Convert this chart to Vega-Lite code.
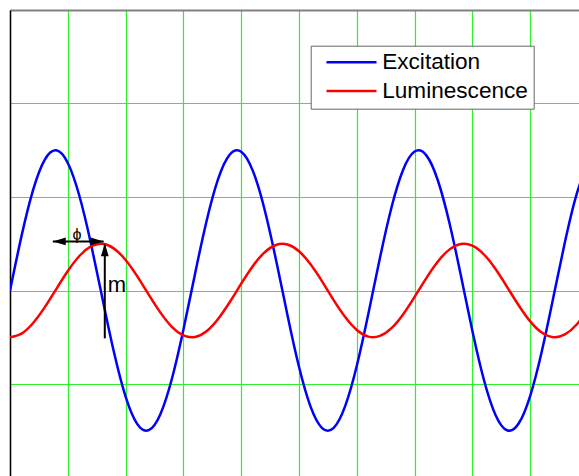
{
  "$schema": "https://vega.github.io/schema/vega-lite/v6.json",
  "width": 578,
  "height": 467.5,
  "autosize": {"type": "none"},
  "padding": {"left": 10, "top": 10, "right": 0, "bottom": 0},
  "background": "white",
  "config": {"view": {"stroke": null}, "font": "Liberation Sans"},
  "datasets": {
    "signals": [
      {"t": 0, "Excitation": 0, "Luminescence": -0.5},
      {"t": 0.2, "Excitation": 0.584, "Luminescence": -0.461},
      {"t": 0.4, "Excitation": 1.076, "Luminescence": -0.348},
      {"t": 0.6, "Excitation": 1.398, "Luminescence": -0.181},
      {"t": 0.8, "Excitation": 1.499, "Luminescence": 0.015},
      {"t": 1.0, "Excitation": 1.364, "Luminescence": 0.208},
      {"t": 1.2, "Excitation": 1.013, "Luminescence": 0.369},
      {"t": 1.4, "Excitation": 0.502, "Luminescence": 0.471},
      {"t": 1.6, "Excitation": -0.088, "Luminescence": 0.499},
      {"t": 1.8, "Excitation": -0.664, "Luminescence": 0.448},
      {"t": 2.0, "Excitation": -1.135, "Luminescence": 0.327},
      {"t": 2.2, "Excitation": -1.427, "Luminescence": 0.154},
      {"t": 2.4, "Excitation": -1.494, "Luminescence": -0.044},
      {"t": 2.6, "Excitation": -1.325, "Luminescence": -0.234},
      {"t": 2.8, "Excitation": -0.947, "Luminescence": -0.388},
      {"t": 3.0, "Excitation": -0.419, "Luminescence": -0.48},
      {"t": 3.2, "Excitation": 0.175, "Luminescence": -0.497},
      {"t": 3.4, "Excitation": 0.741, "Luminescence": -0.435},
      {"t": 3.6, "Excitation": 1.191, "Luminescence": -0.304},
      {"t": 3.8, "Excitation": 1.452, "Luminescence": -0.126},
      {"t": 4.0, "Excitation": 1.484, "Luminescence": 0.073},
      {"t": 4.2, "Excitation": 1.282, "Luminescence": 0.26},
      {"t": 4.4, "Excitation": 0.877, "Luminescence": 0.406},
      {"t": 4.6, "Excitation": 0.334, "Luminescence": 0.487},
      {"t": 4.8, "Excitation": -0.261, "Luminescence": 0.492},
      {"t": 5.0, "Excitation": -0.816, "Luminescence": 0.42},
      {"t": 5.2, "Excitation": -1.242, "Luminescence": 0.28},
      {"t": 5.4, "Excitation": -1.471, "Luminescence": 0.097},
      {"t": 5.6, "Excitation": -1.469, "Luminescence": -0.102},
      {"t": 5.8, "Excitation": -1.234, "Luminescence": -0.284},
      {"t": 6.0, "Excitation": -0.805, "Luminescence": -0.422},
      {"t": 6.2, "Excitation": -0.248, "Luminescence": -0.493},
      {"t": 6.4, "Excitation": 0.347, "Luminescence": -0.486},
      {"t": 6.6, "Excitation": 0.888, "Luminescence": -0.403},
      {"t": 6.8, "Excitation": 1.289, "Luminescence": -0.256},
      {"t": 7.0, "Excitation": 1.486, "Luminescence": -0.068},
      {"t": 7.2, "Excitation": 1.448, "Luminescence": 0.13},
      {"t": 7.4, "Excitation": 1.182, "Luminescence": 0.308},
      {"t": 7.6, "Excitation": 0.73, "Luminescence": 0.437},
      {"t": 7.8, "Excitation": 0.162, "Luminescence": 0.497},
      {"t": 8.0, "Excitation": -0.432, "Luminescence": 0.479},
      {"t": 8.2, "Excitation": -0.957, "Luminescence": 0.385},
      {"t": 8.4, "Excitation": -1.331, "Luminescence": 0.23},
      {"t": 8.6, "Excitation": -1.495, "Luminescence": 0.039},
      {"t": 8.8, "Excitation": -1.423, "Luminescence": -0.158},
      {"t": 9.0, "Excitation": -1.126, "Luminescence": -0.33},
      {"t": 9.2, "Excitation": -0.652, "Luminescence": -0.45},
      {"t": 9.4, "Excitation": -0.074, "Luminescence": -0.499},
      {"t": 9.6, "Excitation": 0.515, "Luminescence": -0.47},
      {"t": 9.8, "Excitation": 1.023, "Luminescence": -0.366},
      {"t": 10.0, "Excitation": 1.369, "Luminescence": -0.204}
    ],
    "arrows": [
      {"x": 0.74, "x2": 1.62, "y": 0.525, "y2": 0.525},
      {"x": 1.64, "x2": 1.64, "y": -0.512, "y2": 0.49}
    ],
    "heads": [
      {"x": 0.74, "y": 0.525, "dir": "left"},
      {"x": 1.62, "y": 0.525, "dir": "right"},
      {"x": 1.64, "y": 0.505, "dir": "up"}
    ],
    "notes": [
      {"x": 1.16, "y": 0.594, "label": "ϕ"},
      {"x": 1.69, "y": -0.015, "label": "m"}
    ]
  },
  "layer": [
    {
      "data": {"name": "signals"},
      "transform": [{"fold": ["Excitation", "Luminescence"], "as": ["series", "value"]}],
      "mark": {"type": "line", "interpolate": "natural", "strokeWidth": 2.5, "clip": true},
      "encoding": {
        "x": {
          "field": "t", "type": "quantitative",
          "scale": {"domain": [0, 10], "nice": false, "zero": false},
          "axis": {
            "orient": "top", "values": [0, 1, 2, 3, 4, 5, 6, 7, 8, 9, 10],
            "grid": true, "gridColor": "#2ef02e", "gridWidth": 1.2,
            "domainColor": "#808080", "domainWidth": 2,
            "ticks": false, "labels": false, "title": null
          }
        },
        "y": {
          "field": "value", "type": "quantitative",
          "scale": {"domain": [-2, 3], "nice": false, "zero": false},
          "axis": {
            "orient": "left", "values": [-2, -1, 0, 1, 2, 3],
            "grid": true, "gridColor": "#2ef02e", "gridWidth": 1.2,
            "domainColor": "#000000", "domainWidth": 1.5,
            "ticks": false, "labels": false, "title": null
          }
        },
        "color": {
          "field": "series", "type": "nominal",
          "scale": {"domain": ["Excitation", "Luminescence"], "range": ["#0000ff", "#ff0000"]},
          "legend": {
            "orient": "none", "legendX": 300.7, "legendY": 35.7,
            "title": null, "symbolType": "stroke", "symbolSize": 2500,
            "symbolStrokeWidth": 2.5, "symbolOffset": 8.7,
            "labelFontSize": 22.6, "labelFont": "Liberation Sans", "labelColor": "#000000",
            "labelOffset": 4.2, "padding": 5.6, "clipHeight": 22, "rowPadding": 5.7,
            "strokeColor": "#666666", "fillColor": "#ffffff"
          }
        }
      }
    },
    {
      "data": {"name": "arrows"},
      "mark": {"type": "rule", "color": "#000000", "strokeWidth": 2},
      "encoding": {
        "x": {"field": "x", "type": "quantitative"},
        "x2": {"field": "x2"},
        "y": {"field": "y", "type": "quantitative"},
        "y2": {"field": "y2"}
      }
    },
    {
      "data": {"name": "heads"},
      "mark": {"type": "point", "filled": true, "color": "#000000", "opacity": 1, "size": 169, "strokeWidth": 0},
      "encoding": {
        "x": {"field": "x", "type": "quantitative"},
        "y": {"field": "y", "type": "quantitative"},
        "shape": {
          "field": "dir", "type": "nominal",
          "scale": {"domain": ["left", "right", "up"], "range": ["M0,0L2,-0.6L2,0.6Z", "M0,0L-2,-0.6L-2,0.6Z", "M0,0L-0.6,2L0.6,2Z"]},
          "legend": null
        }
      }
    },
    {
      "data": {"name": "notes"},
      "transform": [{"filter": "datum.label == 'ϕ'"}],
      "mark": {"type": "text", "fontSize": 16, "align": "center", "baseline": "middle", "color": "#000000", "font": "Liberation Sans"},
      "encoding": {
        "x": {"field": "x", "type": "quantitative"},
        "y": {"field": "y", "type": "quantitative"},
        "text": {"field": "label"}
      }
    },
    {
      "data": {"name": "notes"},
      "transform": [{"filter": "datum.label == 'm'"}],
      "mark": {"type": "text", "fontSize": 22, "align": "left", "baseline": "alphabetic", "color": "#000000", "font": "Liberation Sans"},
      "encoding": {
        "x": {"field": "x", "type": "quantitative"},
        "y": {"field": "y", "type": "quantitative"},
        "text": {"field": "label"}
      }
    }
  ]
}
